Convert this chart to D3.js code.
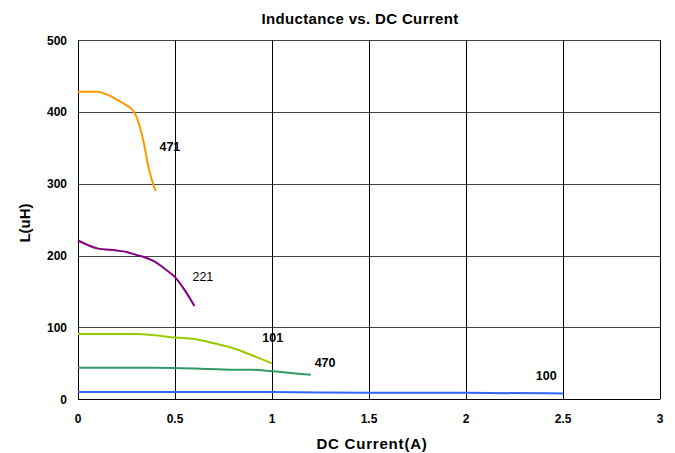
<!DOCTYPE html>
<html>
<head>
<meta charset="utf-8">
<script src="https://cdn.jsdelivr.net/npm/d3@7"></script>
<style>
    body { margin: 0; background: #fff; }
    text { font-family: "Liberation Sans", Arial, sans-serif; }
</style>
</head>
<body>
<svg id="chart" width="675" height="453"></svg>
<script>
// series data
let s471 = [[0, 428], [0.1, 428], [0.15, 424], [0.2, 417], [0.25, 409], [0.28, 403], [0.3, 394], [0.32, 378], [0.34, 356], [0.36, 327], [0.38, 306], [0.4, 290]];
let s221 = [[0, 221], [0.1, 210], [0.2, 207], [0.25, 205], [0.3, 201], [0.35, 197], [0.4, 191], [0.45, 181], [0.5, 170], [0.55, 152], [0.6, 130]];
let s101 = [[0, 91], [0.3, 91], [0.4, 89], [0.5, 86], [0.6, 84], [0.7, 78], [0.8, 71], [0.9, 61], [1, 50]];
let s470 = [[0, 44], [0.2, 44], [0.4, 44], [0.6, 43], [0.8, 41], [0.9, 41], [1, 39], [1.2, 34]];
let s100 = [[0, 10], [1, 10], [1.5, 9], [2, 9], [2.5, 8]];

let seriesNames = ["471", "221", "101", "470", "100"];
let seriesData = [s471, s221, s101, s470, s100];
let seriesColors = ["#FF9900", "#800080", "#99CC00", "#339966", "#3366FF"];
let labelPos = [[0.42, 345], [0.59, 164], [0.95, 80], [1.22, 45], [2.36, 27]];
let labelBold = [true, false, true, true, true];

let xTicks = [0, 0.5, 1, 1.5, 2, 2.5, 3];
let yTicks = [0, 100, 200, 300, 400, 500];

let svg = d3.select('#chart');
let margin = {top: 40, left: 78, bottom: 54, right: 15};
let width = 675, height = 453;

let x = d3.scaleLinear().domain([0, 3]).range([margin.left, 660]);
let y = d3.scaleLinear().domain([0, 500]).range([399.3, margin.top]);

// grid
svg.append("g").selectAll("line").data(yTicks).enter().append("line")
    .attr("x1", x(0)).attr("x2", x(3))
    .attr("y1", d => Math.round(y(d)) + 0.5).attr("y2", d => Math.round(y(d)) + 0.5)
    .attr("stroke", d => d == 0 ? "#000" : "#444").attr("stroke-width", 1);
svg.append("g").selectAll("line").data(xTicks).enter().append("line")
    .attr("x1", d => Math.round(x(d)) + 0.5).attr("x2", d => Math.round(x(d)) + 0.5)
    .attr("y1", y(500)).attr("y2", y(0))
    .attr("stroke", "#000").attr("stroke-width", 1);

// tick labels
svg.append("g").selectAll("text").data(yTicks).enter().append("text")
    .attr("x", 67).attr("y", d => y(d) + 4.5)
    .attr("text-anchor", "end")
    .style("font-size", "12px").style("font-weight", "bold")
    .text(d => d);
svg.append("g").selectAll("text").data(xTicks).enter().append("text")
    .attr("x", d => x(d)).attr("y", 423)
    .attr("text-anchor", "middle")
    .style("font-size", "12px").style("font-weight", "bold")
    .text(d => d);

// lines
let line = d3.line().x(d => x(d[0])).y(d => y(d[1])).curve(d3.curveMonotoneX);
svg.append("g").selectAll("path").data(seriesData).enter().append("path")
    .attr("d", line)
    .attr("fill", "none")
    .attr("stroke", (d, i) => seriesColors[i])
    .attr("stroke-width", 2);

// series labels
svg.append("g").selectAll("text").data(seriesNames).enter().append("text")
    .attr("x", (d, i) => x(labelPos[i][0]))
    .attr("y", (d, i) => y(labelPos[i][1]))
    .style("font-size", "12.5px")
    .style("font-weight", (d, i) => labelBold[i] ? "bold" : "normal")
    .text(d => d);

// titles
svg.append("text")
    .attr("x", 360).attr("y", 24)
    .attr("text-anchor", "middle")
    .style("font-size", "15px").style("font-weight", "bold")
    .style("letter-spacing", "0.35px")
    .text("Inductance vs. DC Current");

svg.append("text")
    .attr("x", 372).attr("y", 449)
    .attr("text-anchor", "middle")
    .style("font-size", "15px").style("font-weight", "bold")
    .style("letter-spacing", "0.8px")
    .text("DC Current(A)");

svg.append("text")
    .attr("transform", "translate(" + 30 + " ," + 223 + "), rotate(-90)")
    .attr("text-anchor", "middle")
    .style("font-size", "15px").style("font-weight", "bold")
    .text("L(uH)");
</script>
</body>
</html>
